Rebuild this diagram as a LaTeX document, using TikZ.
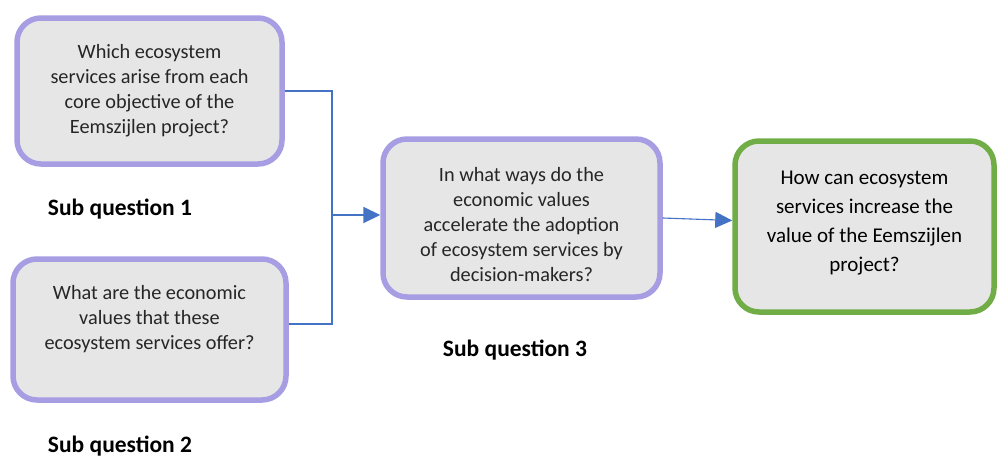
\documentclass[tikz,border=0pt]{standalone}
\usepackage{fontspec}
\setmainfont{Carlito}
\usetikzlibrary{arrows.meta}

\definecolor{lavender}{RGB}{167,157,227}
\definecolor{boxgray}{RGB}{231,230,230}
\definecolor{leafgreen}{RGB}{112,173,71}
\definecolor{linkblue}{RGB}{68,114,196}

\tikzset{
	qbox/.style={draw=lavender, fill=boxgray, line width=5.5pt, rounded corners=24pt,
		align=center, text=black!85, font=\fontsize{20.3}{25}\selectfont},
	mainbox/.style={qbox, draw=leafgreen, text=black, font=\fontsize{21}{29}\selectfont},
	sublabel/.style={font=\fontsize{23.5}{28}\selectfont\bfseries},
	link/.style={draw=linkblue, line width=1.1pt},
	tip/.style={-{Triangle[length=17pt,width=16pt]}, fill=linkblue}
}

\begin{document}
\begin{tikzpicture}[x=1pt,y=-1pt]
	\useasboundingbox (0,0) rectangle (997,458);
	
	% the three sub questions
	\node[qbox, minimum width=265pt, minimum height=146pt] (sq1) at (149.5,91)
		{Which ecosystem\\services arise from each\\core objective of the\\Eemszijlen project?};
	\node[qbox, minimum width=273pt, minimum height=141pt] (sq2) at (149.5,329.5)
		{What are the economic\\values that these\\ecosystem services offer?\\\mbox{}};
	\node[qbox, minimum width=277pt, minimum height=158pt] (sq3) at (521.5,218)
		{\rule{0pt}{27pt}In what ways do the\\economic values\\accelerate the adoption\\of ecosystem services by\\decision-makers?};
	
	% main question
	\node[mainbox, minimum width=259pt, minimum height=171pt] (main) at (864.5,226.5)
		{How can ecosystem\\services increase the\\value of the Eemszijlen\\project?\\[-18pt]\mbox{}};
	
	\node[sublabel] (lab1) at (120,209) {Sub question 1};
	\node[sublabel] (lab2) at (120,446) {Sub question 2};
	\node[sublabel] (lab3) at (515,350) {Sub question 3};
	
	% connectors
	\coordinate (join) at (332,215);
	\draw[link] (sq1.east) -| (join);
	\draw[link] ([yshift=5.5pt]sq2.east) -| (join);
	\draw[link, line width=2pt, tip] (join) -- (join -| sq3.west);
	\draw[link, tip] (sq3.east) -- ([yshift=6pt]main.west);
\end{tikzpicture}
\end{document}
